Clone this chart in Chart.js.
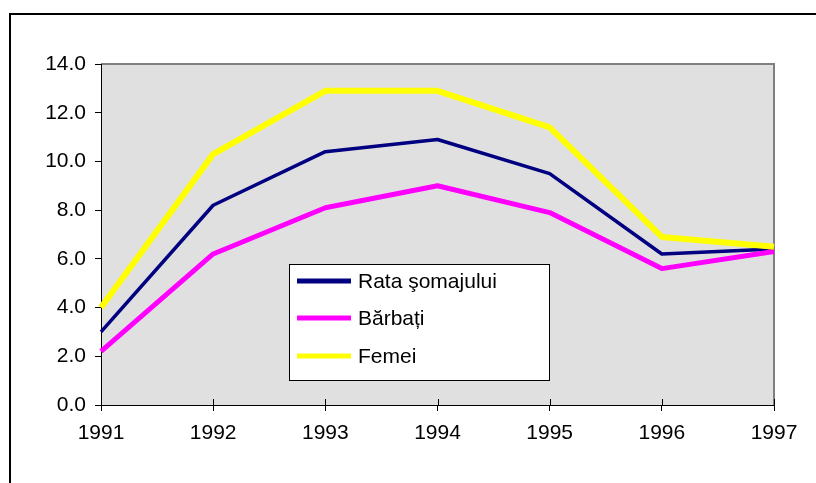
<!DOCTYPE html>
<html>
<head>
<meta charset="utf-8">
<script src="https://cdn.jsdelivr.net/npm/chart.js@4.4.1/dist/chart.umd.min.js"></script>
<style>
html,body{margin:0;padding:0;background:#fff;}
#wrap{position:relative;width:816px;height:483px;}
canvas{display:block;}
</style>
</head>
<body>
<div id="wrap"><canvas id="c" width="816" height="483"></canvas></div>
<script>
const years = ["1991","1992","1993","1994","1995","1996","1997"];
const rataSomajului = [3.0, 8.2, 10.4, 10.9, 9.5, 6.2, 6.4];
const barbati = [2.2, 6.2, 8.1, 9.0, 7.9, 5.6, 6.3];
const femei = [4.0, 10.3, 12.9, 12.9, 11.4, 6.9, 6.5];
const seriesNames = ["Rata şomajului", "Bărbați", "Femei"];
const yTicks = [0, 2, 4, 6, 8, 10, 12, 14];

const FONT = "'Liberation Sans', Arial, sans-serif";
const FSIZE = 21;

const framePlugin = {
  id: 'frame',
  beforeDraw(chart) {
    const ctx = chart.ctx, a = chart.chartArea;
    ctx.save();
    ctx.strokeStyle = '#000';
    ctx.lineWidth = 2;
    ctx.beginPath();
    ctx.moveTo(10, chart.height + 2);
    ctx.lineTo(10, 14);
    ctx.lineTo(chart.width + 2, 14);
    ctx.stroke();
    ctx.fillStyle = '#e0e0e0';
    ctx.fillRect(a.left, a.top, a.right - a.left, a.bottom - a.top);
    ctx.strokeStyle = '#808080';
    ctx.lineWidth = 2;
    ctx.beginPath();
    ctx.moveTo(a.left, a.top);
    ctx.lineTo(a.right, a.top);
    ctx.lineTo(a.right, a.bottom);
    ctx.stroke();
    ctx.restore();
  },
  afterDatasetsDraw(chart) {
    const ctx = chart.ctx, a = chart.chartArea;
    const xs = chart.scales.x;
    ctx.save();
    ctx.strokeStyle = '#000';
    ctx.lineWidth = 1;
    ctx.beginPath();
    for (let i = 0; i < years.length; i++) {
      const px = Math.round(xs.getPixelForTick(i)) + 0.5;
      ctx.moveTo(px, a.bottom);
      ctx.lineTo(px, a.bottom - 6);
    }
    ctx.stroke();
    const bx = a.left + 188, by = a.top + 200, bw = 260, bh = 116;
    ctx.fillStyle = '#fff';
    ctx.fillRect(bx, by, bw, bh);
    ctx.strokeStyle = '#000';
    ctx.lineWidth = 1;
    ctx.strokeRect(bx + 0.5, by + 0.5, bw, bh);
    ctx.font = FSIZE + 'px ' + FONT;
    ctx.textBaseline = 'middle';
    ctx.textAlign = 'left';
    const rows = [17, 54, 92];
    chart.data.datasets.forEach((ds, i) => {
      const cy = by + rows[i];
      ctx.strokeStyle = ds.borderColor;
      ctx.lineWidth = 5;
      ctx.lineCap = 'butt';
      ctx.beginPath();
      ctx.moveTo(bx + 8, cy);
      ctx.lineTo(bx + 62, cy);
      ctx.stroke();
      ctx.fillStyle = '#000';
      ctx.fillText(ds.label, bx + 69, cy + 1);
    });
    ctx.restore();
  }
};

new Chart(document.getElementById('c'), {
  type: 'line',
  data: {
    labels: years,
    datasets: [
      { label: seriesNames[0], data: rataSomajului, borderColor: '#000080', borderWidth: 3.5, order: 3 },
      { label: seriesNames[1], data: barbati, borderColor: '#ff00ff', borderWidth: 5, order: 2 },
      { label: seriesNames[2], data: femei, borderColor: '#ffff00', borderWidth: 6, order: 1 }
    ]
  },
  options: {
    responsive: false,
    animation: false,
    devicePixelRatio: 1,
    elements: {
      point: { radius: 0, hoverRadius: 0 },
      line: { tension: 0, borderJoinStyle: 'round', borderCapStyle: 'butt', fill: false }
    },
    layout: { padding: { left: 0, top: 64, right: 42, bottom: 0 } },
    plugins: { legend: { display: false }, tooltip: { enabled: false } },
    scales: {
      x: {
        type: 'category',
        offset: false,
        grid: { drawOnChartArea: false, drawTicks: true, tickLength: 6, color: '#000', tickColor: '#000' },
        border: { display: true, color: '#000', width: 1 },
        ticks: { color: '#000', font: { family: FONT, size: FSIZE }, padding: 10, maxRotation: 0, autoSkip: false },
        afterFit(s) { s.height = 78; }
      },
      y: {
        min: 0, max: 14,
        afterBuildTicks(s) { s.ticks = yTicks.map(v => ({ value: v })); },
        grid: { drawOnChartArea: false, drawTicks: true, tickLength: 6, color: '#000', tickColor: '#000' },
        border: { display: true, color: '#000', width: 1 },
        ticks: { color: '#000', font: { family: FONT, size: FSIZE }, padding: 9, callback: v => Number(v).toFixed(1) },
        afterFit(s) { s.width = 101; }
      }
    }
  },
  plugins: [framePlugin]
});
</script>
</body>
</html>
